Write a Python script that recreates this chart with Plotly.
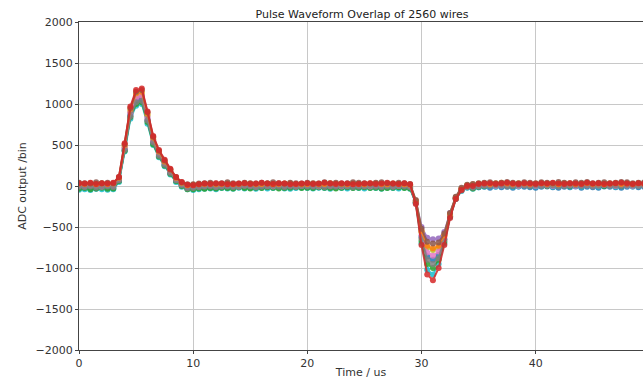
import plotly.graph_objects as go

time_us = [0, 0.5, 1, 1.5, 2, 2.5, 3, 3.5, 4, 4.5, 5, 5.5, 6, 6.5, 7, 7.5, 8, 8.5, 9, 9.5,
           10, 10.5, 11, 11.5, 12, 12.5, 13, 13.5, 14, 14.5, 15, 15.5, 16, 16.5, 17, 17.5, 18, 18.5, 19, 19.5,
           20, 20.5, 21, 21.5, 22, 22.5, 23, 23.5, 24, 24.5, 25, 25.5, 26, 26.5, 27, 27.5, 28, 28.5, 29, 29.5,
           30, 30.5, 31, 31.5, 32, 32.5, 33, 33.5, 34, 34.5, 35, 35.5, 36, 36.5, 37, 37.5, 38, 38.5, 39, 39.5,
           40, 40.5, 41, 41.5, 42, 42.5, 43, 43.5, 44, 44.5, 45, 45.5, 46, 46.5, 47, 47.5, 48, 48.5, 49, 49.5]

wire_a = [-25, -15, -20, -30, -10, -20, -25, 70, 440, 860, 1040, 1060, 800, 530, 380, 260, 160, 70, 10, -25,
          -20, -10, -15, -5, -20, -10, -5, -15, -10, 0, -10, -20, -5, -10, -15, -5, 0, -10, -15, -5,
          -10, -5, -15, -10, 0, -5, -10, -15, -5, -10, -5, -15, -10, -5, -10, -15, -5, -10, -20, -200,
          -620, -860, -900, -840, -650, -360, -150, -50, -15, -20, -15, -10, -20, -5, -15, -10, -20, -5, -10, -15,
          -20, -10, -5, -15, -20, -10, -15, -5, -20, -10, -15, -20, -5, -10, -15, -20, -10, -5, -15, -10]
wire_j = [-45, -40, -50, -35, -40, -45, -40, 50, 420, 820, 980, 1000, 760, 500, 350, 240, 140, 50, -10, -40,
          -50, -40, -35, -30, -40, -25, -30, -35, -20, -30, -25, -35, -20, -30, -25, -20, -30, -35, -25, -20,
          -25, -30, -20, -25, -35, -20, -25, -30, -20, -25, -30, -20, -25, -35, -20, -25, -30, -20, -35, -210,
          -700, -1020, -1080, -950, -700, -380, -160, -60, -20, -35, -15, -5, 0, -10, 5, 0, -10, -5, 5, 0,
          -5, 0, 5, -10, 0, 5, -5, 0, -10, 5, 0, -5, 5, 0, -10, 0, 5, -5, 0, 5]
wire_c = [-35, -25, -40, -30, -20, -35, -30, 60, 430, 840, 1000, 1020, 780, 510, 360, 250, 150, 60, 0, -40,
          -40, -30, -35, -25, -30, -20, -25, -30, -15, -25, -30, -20, -25, -15, -20, -30, -25, -20, -15, -25,
          -20, -25, -15, -20, -25, -30, -20, -15, -25, -20, -15, -25, -20, -30, -25, -20, -15, -25, -30, -200,
          -670, -950, -1000, -900, -680, -370, -150, -50, -10, -30, -10, 0, 10, 5, 15, 10, 0, 5, 10, 0,
          5, 10, 0, 10, 15, 5, 0, 10, 5, 15, 10, 5, 0, 10, 5, 0, 10, 5, 15, 5]
wire_e = [10, 5, 15, 10, 0, 10, 15, 80, 460, 880, 1060, 1080, 820, 550, 390, 280, 170, 80, 20, -5,
          0, 5, 10, 15, 5, 10, 0, 10, 15, 5, 10, 15, 5, 0, 10, 15, 10, 5, 10, 15,
          5, 10, 15, 10, 5, 0, 10, 15, 10, 5, 10, 15, 5, 10, 15, 10, 5, 10, 5, -180,
          -500, -630, -650, -640, -560, -330, -140, -40, 0, 5, 15, 20, 10, 15, 20, 10, 15, 20, 10, 15,
          10, 20, 15, 10, 20, 15, 10, 15, 20, 10, 15, 20, 10, 15, 10, 20, 15, 10, 20, 15]
wire_i = [20, 25, 15, 20, 30, 15, 20, 90, 480, 910, 1100, 1120, 860, 570, 410, 290, 190, 90, 30, 5,
          10, 15, 20, 25, 15, 20, 25, 15, 20, 10, 20, 25, 15, 20, 25, 15, 20, 25, 15, 20,
          20, 15, 25, 20, 15, 25, 20, 15, 20, 25, 15, 20, 25, 20, 15, 25, 20, 15, 10, -190,
          -560, -750, -780, -750, -610, -350, -150, -40, 5, 5, 20, 25, 20, 30, 25, 20, 30, 25, 20, 25,
          20, 25, 30, 20, 25, 30, 20, 25, 20, 30, 25, 20, 30, 25, 20, 25, 30, 20, 25, 30]
wire_g = [0, -5, 5, 0, -10, 5, 0, 80, 470, 900, 1080, 1100, 840, 560, 400, 280, 180, 80, 20, -10,
          -10, -5, 0, 5, -5, 0, 10, 0, -5, 5, 0, -10, 5, 0, -5, 10, 0, 5, -5, 0,
          5, 0, -5, 10, 0, 5, -5, 0, 10, 5, 0, -5, 5, 0, 10, -5, 0, 5, -5, -200,
          -600, -810, -850, -800, -630, -350, -150, -50, -10, -10, 0, 5, 10, 0, 5, 15, 5, 0, 10, 5,
          0, 10, 5, 0, 15, 5, 10, 0, 5, 10, 0, 5, 15, 5, 0, 10, 5, 0, 10, 5]
wire_h = [-10, -15, -5, -20, -10, -5, -15, 70, 440, 850, 1020, 1040, 800, 530, 370, 260, 160, 70, 10, -30,
          -25, -15, -10, -5, -15, -10, -5, -15, -10, 0, -5, -15, -10, -5, 0, -10, -15, -5, -10, 0,
          -5, -10, 0, -15, -5, -10, 0, -5, -15, -10, -5, 0, -10, -15, -5, -10, 0, -5, -15, -200,
          -640, -900, -950, -880, -660, -370, -160, -55, -15, -20, -5, 5, 0, 10, 5, -5, 0, 10, 5, 0,
          5, 0, 10, 5, -5, 0, 5, 10, 0, 5, -5, 5, 10, 0, 5, 0, 10, 5, 0, 5]
wire_b = [30, 25, 35, 20, 30, 25, 30, 100, 500, 940, 1130, 1150, 880, 590, 420, 300, 200, 100, 40, 10,
          15, 20, 25, 30, 20, 25, 30, 20, 25, 35, 30, 20, 25, 30, 20, 25, 30, 35, 25, 20,
          25, 30, 20, 25, 35, 30, 25, 20, 30, 25, 20, 30, 35, 25, 20, 30, 25, 20, 15, -180,
          -550, -730, -760, -730, -600, -340, -140, -30, 10, 20, 30, 35, 25, 30, 40, 30, 25, 35, 30, 25,
          30, 35, 25, 30, 20, 35, 30, 25, 30, 35, 25, 30, 20, 30, 35, 25, 30, 25, 35, 30]
wire_f = [40, 35, 30, 45, 35, 40, 35, 110, 510, 950, 1150, 1170, 900, 600, 430, 310, 200, 110, 45, 20,
          20, 30, 35, 40, 30, 35, 45, 35, 30, 40, 35, 30, 40, 35, 45, 35, 30, 40, 35, 30,
          40, 35, 30, 45, 35, 40, 30, 35, 45, 40, 35, 30, 40, 45, 35, 30, 40, 35, 25, -170,
          -520, -680, -700, -690, -580, -330, -130, -20, 15, 25, 35, 40, 45, 35, 40, 50, 40, 35, 45, 40,
          35, 45, 40, 35, 50, 40, 35, 45, 40, 50, 35, 40, 45, 35, 40, 50, 45, 35, 40, 45]
wire_d = [35, 30, 40, 25, 35, 30, 40, 110, 520, 970, 1170, 1190, 910, 610, 440, 320, 210, 110, 50, 15,
          10, 20, 30, 25, 35, 30, 20, 25, 30, 35, 25, 30, 40, 30, 25, 35, 30, 20, 25, 30,
          35, 25, 30, 40, 30, 25, 35, 30, 20, 25, 30, 35, 25, 30, 40, 30, 25, 35, 20, -220,
          -720, -1080, -1150, -1000, -720, -390, -160, -50, 0, 0, 25, 30, 35, 25, 30, 40, 30, 25, 35, 30,
          25, 35, 30, 40, 30, 25, 35, 30, 25, 40, 30, 35, 25, 30, 35, 40, 30, 25, 35, 30]

series = [
    ("wire A", wire_a, "#1f77b4"),
    ("wire J", wire_j, "#17becf"),
    ("wire C", wire_c, "#2ca02c"),
    ("wire E", wire_e, "#9467bd"),
    ("wire I", wire_i, "#bcbd22"),
    ("wire G", wire_g, "#e377c2"),
    ("wire H", wire_h, "#7f7f7f"),
    ("wire B", wire_b, "#ff7f0e"),
    ("wire F", wire_f, "#8c564b"),
    ("wire D", wire_d, "#d62728"),
]

x_ticks = [0, 10, 20, 30, 40]
y_ticks = [-2000, -1500, -1000, -500, 0, 500, 1000, 1500, 2000]

fig = go.Figure()
for name, vals, col in series:
    fig.add_trace(go.Scatter(
        x=time_us, y=vals, name=name, mode="lines+markers",
        line=dict(color=col, width=2),
        marker=dict(color=col, size=6),
        opacity=0.85,
    ))

font = "DejaVu Sans, Verdana, sans-serif"
fig.update_layout(
    width=643, height=379,
    margin=dict(l=79, r=0, t=22, b=29),
    paper_bgcolor="white", plot_bgcolor="white",
    showlegend=False,
    font=dict(family=font, size=11, color="#333333"),
    title=dict(text="Pulse Waveform Overlap of 2560 wires", x=362/643, xref="container",
               xanchor="center", y=1 - 14/379, yref="container", yanchor="middle",
               font=dict(family=font, size=11, color="#222222")),
)
fig.update_xaxes(
    range=[0, 49.4], tickmode="array", tickvals=x_ticks,
    showgrid=True, gridcolor="#c8c8c8", gridwidth=1,
    showline=True, linecolor="#444444", linewidth=1, mirror=True,
    ticks="outside", ticklen=3, tickcolor="#444444",
    zeroline=False,
    title=dict(text="Time / us", standoff=2, font=dict(size=11)),
)
fig.update_yaxes(
    range=[-2000, 2000], tickmode="array", tickvals=y_ticks,
    showgrid=True, gridcolor="#c8c8c8", gridwidth=1,
    showline=True, linecolor="#444444", linewidth=1,
    ticks="outside", ticklen=3, tickcolor="#444444",
    zeroline=False,
    title=dict(text="ADC output /bin", standoff=6, font=dict(size=11)),
)

fig.write_html("out.html")
